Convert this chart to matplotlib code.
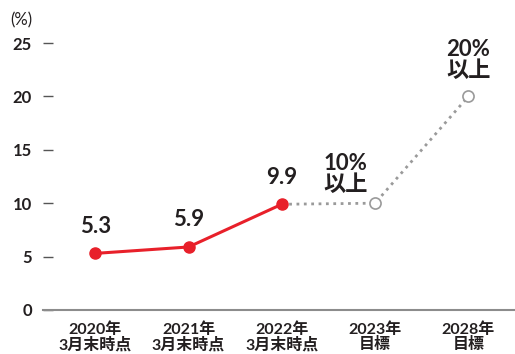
import matplotlib.pyplot as plt
import numpy as np

plt.rcParams['font.family'] = ['Lato', 'Noto Sans CJK JP', 'DejaVu Sans']

# data
categories = ["2020年\n3月末時点", "2021年\n3月末時点", "2022年\n3月末時点", "2023年\n目標", "2028年\n目標"]
actual = [5.3, 5.9, 9.9]
target = [9.9, 10, 20]
labels_actual = ["5.3", "5.9", "9.9"]
labels_target = ["10%\n以上", "20%\n以上"]
yticks = [0, 5, 10, 15, 20, 25]

red = "#e8202a"
grey = "#9a9a9a"
txt = "#231f20"

fig = plt.figure(figsize=(5.15, 3.54), dpi=100)
ax = fig.add_axes([43/515, 1 - 310/354, 472/515, 267/354])

x = np.arange(len(categories))
xa = x[:3]
xt = x[2:]

ax.plot(xt, target, color=grey, lw=2, ls=":", zorder=2)
ax.plot(xt[1:], target[1:], "o", ms=8, mfc="white", mec=grey, mew=1.2, ls="none", zorder=3)
ax.plot(xa, actual, color=red, lw=2.2, marker="o", ms=8, zorder=4)

for xi, yi, s in zip(xa, actual, labels_actual):
    ax.annotate(s, (xi, yi), xytext=(0, 12), textcoords="offset points",
                ha="center", va="bottom", fontsize=16, color=txt, fontweight="bold")

ax.annotate(labels_target[0], (xt[1], target[1]), xytext=(-21, 6), textcoords="offset points",
            ha="center", va="bottom", fontsize=16, color=txt, fontweight="bold",
            linespacing=1.0)
ax.annotate(labels_target[1], (xt[2], target[2]), xytext=(0, 11), textcoords="offset points",
            ha="center", va="bottom", fontsize=16, color=txt, fontweight="bold",
            linespacing=1.0)

ax.set_xlim(-0.56, 4.5)
ax.set_ylim(0, 25)
ax.set_xticks(x)
ax.set_xticklabels(categories, fontsize=11.5, color=txt, linespacing=1.0, fontweight="bold")
ax.set_yticks(yticks)
ax.set_yticklabels([str(v) for v in yticks], fontsize=12, color=txt, fontweight="bold")

for s in ["top", "right", "left"]:
    ax.spines[s].set_visible(False)
ax.spines["bottom"].set_color("#8c8c8c")
ax.spines["bottom"].set_linewidth(1.5)
ax.tick_params(axis="y", direction="in", length=7, width=1, color="#555555", pad=8)
ax.tick_params(axis="x", length=0, pad=9)

fig.text(10/515, 1 - 20/354, "(%)", fontsize=12, color=txt, va="center", ha="left")

fig.savefig("out.png", dpi=100)
